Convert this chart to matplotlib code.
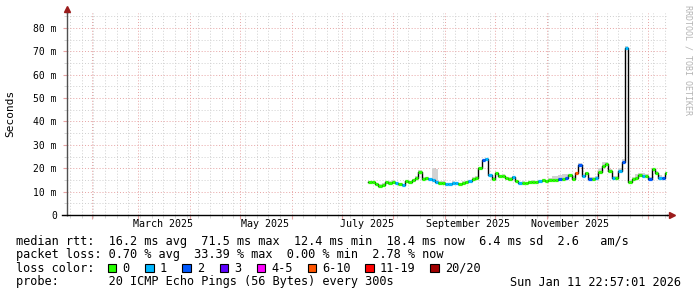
import numpy as np
import pandas as pd
import matplotlib
matplotlib.use("Agg")
import matplotlib.pyplot as plt
import matplotlib.dates as mdates
import matplotlib.transforms as mtransforms
from matplotlib.patches import Rectangle

plt.rcParams['font.family'] = ['DejaVu Sans Mono']

# ---------------- data ----------------
range_start = pd.Timestamp("2025-01-16 22:57:01")
range_end = pd.Timestamp("2026-01-11 22:57:01")
series_start = "2025-07-17"
step_days = 2

median_ms = [14.0, 14.0, 13.3, 12.5, 13.0, 14.0, 13.8, 14.2, 13.6, 13.2,
             12.8, 14.5, 14.0, 15.0, 16.0, 18.5, 15.5, 15.8, 15.2, 14.8,
             14.2, 13.8, 13.8, 13.3, 13.2, 13.8, 13.5, 13.2, 13.8, 14.0,
             14.5, 15.5, 16.0, 20.0, 23.5, 23.8, 17.0, 15.5, 17.8, 16.5,
             16.8, 15.8, 15.5, 16.2, 14.5, 13.5, 13.8, 13.5, 14.0, 14.2,
             14.0, 14.5, 14.8, 14.5, 14.8, 15.0, 14.8, 15.2, 15.5, 16.0,
             17.0, 15.5, 18.0, 21.5, 16.5, 17.8, 15.5, 15.5, 16.0, 18.5,
             21.0, 21.8, 19.0, 16.0, 16.0, 19.0, 22.8, 71.5, 14.0, 15.5,
             16.0, 17.0, 16.5, 16.8, 15.5, 19.5, 18.0, 16.0, 15.8, 17.8]

smoke_hi_ms = [14.6, 14.6, 13.9, 13.1, 13.6, 14.6, 14.4, 14.8, 14.2, 13.8,
               13.4, 15.1, 14.6, 15.6, 16.6, 19.1, 16.1, 16.4, 15.8, 20.0,
               19.5, 14.4, 14.4, 13.9, 13.8, 14.4, 14.1, 13.8, 14.4, 14.6,
               15.1, 16.1, 16.6, 20.6, 24.1, 24.4, 17.6, 16.1, 18.4, 17.1,
               17.4, 16.4, 16.1, 16.8, 15.1, 14.1, 14.4, 14.1, 14.6, 14.8,
               14.6, 15.1, 15.4, 15.1, 15.8, 16.5, 16.8, 17.2, 17.5, 17.5,
               17.6, 16.8, 18.6, 22.1, 17.1, 18.4, 16.1, 16.1, 16.6, 20.0,
               22.5, 22.5, 19.6, 16.6, 16.6, 20.0, 24.0, 72.1, 14.6, 16.1,
               17.5, 18.0, 17.8, 17.6, 16.1, 20.1, 18.8, 17.0, 16.4, 18.4]

loss_pings = [0, 0, 0, 0, 0, 0, 0, 0, 1, 0,
              1, 0, 0, 0, 0, 0, 0, 0, 1, 1,
              1, 0, 0, 1, 1, 1, 1, 0, 0, 0,
              1, 0, 0, 0, 2, 1, 1, 0, 0, 0,
              0, 0, 0, 1, 0, 1, 0, 0, 0, 0,
              0, 1, 0, 0, 0, 0, 0, 2, 0, 2,
              0, 0, 7, 2, 1, 0, 2, 0, 1, 0,
              0, 0, 0, 1, 0, 1, 2, 1, 0, 0,
              0, 0, 1, 0, 2, 0, 0, 1, 2, 0]

loss_labels = ["0", "1", "2", "3", "4-5", "6-10", "11-19", "20/20"]
loss_colors = ["#26ff00", "#00b8ff", "#0059ff", "#5e00ff", "#ff00ff",
               "#ff5500", "#ff0000", "#a10000"]
loss_upper = [0, 1, 2, 3, 5, 10, 19, 20]

y_major = [0, 10, 20, 30, 40, 50, 60, 70, 80]
y_labels = ["0", "10 m", "20 m", "30 m", "40 m", "50 m", "60 m", "70 m", "80 m"]
x_label_months = ["2025-03-16", "2025-05-16", "2025-07-16", "2025-09-15", "2025-11-15"]
x_label_texts = ["March 2025", "May 2025", "July 2025", "September 2025", "November 2025"]

legend_lines = [
    "median rtt:  16.2 ms avg  71.5 ms max  12.4 ms min  18.4 ms now  6.4 ms sd  2.6   am/s",
    "packet loss: 0.70 % avg  33.39 % max  0.00 % min  2.78 % now",
    "loss color:",
    "probe:       20 ICMP Echo Pings (56 Bytes) every 300s",
]
timestamp_text = "Sun Jan 11 22:57:01 2026"

# ---------------- figure ----------------
W, H = 697, 297
fig = plt.figure(figsize=(W / 100, H / 100), dpi=100)
fig.patch.set_facecolor("white")

def fx(x):
    return x / W

def fy(y):
    return 1 - y / H

ax_l, ax_r, ax_t, ax_b = 66.6, 666.6, 13.0, 215.0
ax = fig.add_axes([fx(ax_l), fy(ax_b), (ax_r - ax_l) / W, (ax_b - ax_t) / H])
ax.set_facecolor("white")

dates = pd.date_range(series_start, periods=len(median_ms), freq=f"{step_days}D")
ends = dates + pd.Timedelta(days=step_days)
med = np.array(median_ms)
hi = np.array(smoke_hi_ms)

xd = mdates.date2num(dates.to_pydatetime())
xe = mdates.date2num(ends.to_pydatetime())
x_edges = np.append(xd, xe[-1])

# smoke
ax.fill_between(x_edges, np.append(med, med[-1]), np.append(hi, hi[-1]),
                step="post", color="#d2d2d2", lw=0, zorder=2)
# black median step
ax.step(x_edges, np.append(med, med[-1]), where="post", color="black", lw=1.0, zorder=3)

def loss_color(n):
    for up, c in zip(loss_upper, loss_colors):
        if n <= up:
            return c
    return loss_colors[-1]

cols = [loss_color(n) for n in loss_pings]
lc = ax.hlines(med, xd, xe, colors=cols, lw=2.3, zorder=4)
lc.set_capstyle("butt")

# limits
ax.set_xlim(mdates.date2num(range_start.to_pydatetime()), mdates.date2num(range_end.to_pydatetime()))
ax.set_ylim(0, 86.4)

# grid
ax.xaxis.set_major_locator(mdates.MonthLocator())
ax.xaxis.set_minor_locator(mdates.WeekdayLocator(byweekday=mdates.SU))
ax.xaxis.set_major_formatter(plt.NullFormatter())
ax.set_yticks(y_major)
ax.set_yticklabels(y_labels)
ax.yaxis.set_minor_locator(plt.MultipleLocator(5))

grid_red = "#e7a3a3"
grid_grey = "#cfcfcf"
ax.grid(which="minor", color=grid_grey, lw=0.7, linestyle=(0, (1, 2)), zorder=0)
ax.grid(which="major", color=grid_red, lw=0.7, linestyle=(0, (1, 2)), zorder=1)
ax.set_axisbelow(True)

ax.tick_params(axis="y", which="major", length=3, color=grid_red, pad=4, labelsize=7, labelcolor="black")
ax.tick_params(axis="y", which="minor", length=2, color=grid_grey)
ax.tick_params(axis="x", which="major", length=3, color=grid_red)
ax.tick_params(axis="x", which="minor", length=2, color=grid_grey)

for s in ["top", "right"]:
    ax.spines[s].set_visible(False)
ax.spines["left"].set_color("#505050")
ax.spines["left"].set_linewidth(1.0)
ax.spines["bottom"].set_color("black")
ax.spines["bottom"].set_linewidth(1.0)

# axis extensions and arrows
arrow_c = "#9b1b1b"
ax.plot([0, 0], [1.0, 1.012], transform=ax.transAxes, color="#505050", lw=1.0, clip_on=False)
ax.plot([1.0, 1.006], [0, 0], transform=ax.transAxes, color="black", lw=1.0, clip_on=False)
ax.plot([-0.007, 0], [0, 0], transform=ax.transAxes, color="black", lw=1.0, clip_on=False)
ax.plot([0], [1.018], marker="^", ms=5, color=arrow_c, transform=ax.transAxes, clip_on=False)
ax.plot([1.009], [0], marker=">", ms=5, color=arrow_c, transform=ax.transAxes, clip_on=False)

# x labels at mid month
trans = mtransforms.blended_transform_factory(ax.transData, ax.transAxes)
for d, t in zip(x_label_months, x_label_texts):
    ax.text(mdates.date2num(pd.Timestamp(d).to_pydatetime()), -(224 - ax_b) / (ax_b - ax_t),
            t, transform=trans, ha="center", va="center", fontsize=7.2, color="black")

# y axis title
fig.text(fx(10.5), fy(113.5), "Seconds", rotation=90, ha="center", va="center", fontsize=8, color="black")

# watermark
fig.text(fx(688), fy(60), "RRDTOOL / TOBI OETIKER", rotation=270, ha="center", va="center",
         fontsize=6, color="#b4b4b4")

# legend text
leg_fs = 8.55
ys = [241, 254.5, 268, 282]
for line, y in zip(legend_lines, ys):
    fig.text(fx(16), fy(y), line, ha="left", va="center", fontsize=leg_fs, color="black")
fig.text(fx(681), fy(ys[3]), timestamp_text, ha="right", va="center", fontsize=leg_fs, color="black")

box_x = [108, 145.3, 182.2, 219.6, 256.9, 307.6, 365.3, 430.2]
for bx, lab, c in zip(box_x, loss_labels, loss_colors):
    fig.patches.append(Rectangle((fx(bx), fy(ys[2] + 4.2)), 8.4 / W, 8.4 / H,
                                 transform=fig.transFigure, facecolor=c, edgecolor="black", lw=0.8))
    fig.text(fx(bx + 14.5), fy(ys[2]), lab, ha="left", va="center", fontsize=leg_fs, color="black")

fig.savefig("out.png", dpi=100, facecolor="white")
